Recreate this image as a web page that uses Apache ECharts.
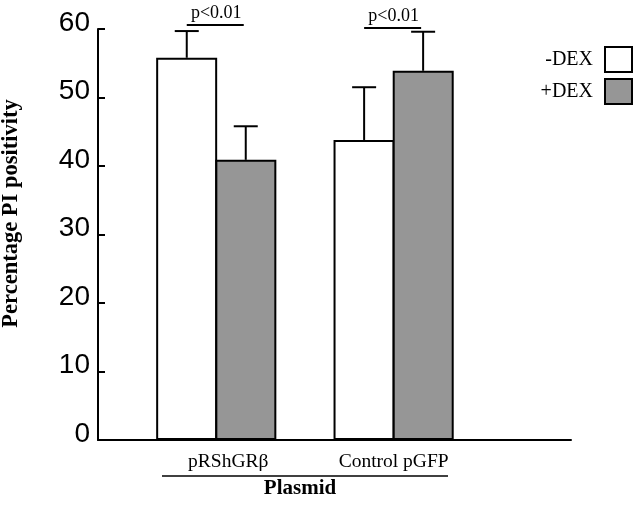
<!DOCTYPE html>
<html>
<head>
<meta charset="utf-8">
<script src="https://cdn.jsdelivr.net/npm/echarts@6/dist/echarts.min.js"></script>
<style>
html,body{margin:0;padding:0;background:#fff;}
#chart{width:640px;height:507px;}
</style>
</head>
<body>
<div id="chart"></div>
<script>
// ---- data ----
const categories = ['pRShGRβ', 'Control pGFP'];
const seriesNames = ['-DEX', '+DEX'];
const minusDex = [55.8, 43.8];
const plusDex = [40.9, 53.9];
const minusDexErr = [3.9, 7.7];
const plusDexErr = [4.9, 5.7];
const sigLabels = ['p<0.01', 'p<0.01'];
const sigLevels = [60.6, 60.15];
const yMin = 0, yMax = 60, yStep = 10;
const xTitle = 'Plasmid';
const yTitle = 'Percentage PI positivity';

// ---- layout helpers (category slots on the axis) ----
const slotCount = 8;
const groupSlots = [2, 5];
const axisSlots = Array.from({length: slotCount + 1}, (_, i) => {
  const g = groupSlots.indexOf(i);
  return g >= 0 ? categories[g] : '';
});
const toSlots = vals => axisSlots.map((_, i) => {
  const g = groupSlots.indexOf(i);
  return g >= 0 ? vals[g] : '-';
});
const BW = 59;
const serif = '"Liberation Serif", "Times New Roman", serif';
const sans = '"Liberation Sans", Arial, sans-serif';
const GRAY = '#969696';

const chart = echarts.init(document.getElementById('chart'), null, {renderer: 'canvas'});

function errRender(sign) {
  return function (params, api) {
    const slot = api.value(0);
    const base = api.coord([slot, api.value(1)]);
    const top = api.coord([slot, api.value(1) + api.value(2)]);
    const x = base[0] + sign * BW / 2;
    const cap = 12;
    const st = {stroke: '#000', lineWidth: 2};
    return {
      type: 'group',
      children: [
        {type: 'line', shape: {x1: x, y1: base[1], x2: x, y2: top[1]}, style: st},
        {type: 'line', shape: {x1: x - cap, y1: top[1], x2: x + cap, y2: top[1]}, style: st}
      ]
    };
  };
}

const option = {
  backgroundColor: '#fff',
  animation: false,
  grid: {left: 98, right: 69, top: 29, bottom: 67, containLabel: false, outerBoundsMode: 'none'},
  legend: {
    orient: 'vertical',
    right: 7,
    top: 46,
    padding: 0,
    align: 'right',
    itemWidth: 27,
    itemHeight: 25,
    itemGap: 5,
    icon: 'rect',
    data: seriesNames,
    textStyle: {fontFamily: serif, fontSize: 20, color: '#000', padding: [0, 7, 0, 0], lineHeight: 26}
  },
  xAxis: {
    type: 'category',
    data: axisSlots,
    boundaryGap: false,
    axisLine: {lineStyle: {color: '#000', width: 2}},
    axisTick: {show: false},
    splitLine: {show: false},
    axisLabel: {
      interval: 0,
      margin: 12,
      fontFamily: serif,
      fontSize: 19.5,
      color: '#000',
      formatter: (v) => v === categories[0] ? '{a|' + v + '}' : v,
      rich: {a: {fontFamily: serif, fontSize: 19.5, color: '#000', padding: [0, 0, 0, 24]}}
    }
  },
  yAxis: {
    type: 'value',
    min: yMin, max: yMax, interval: yStep,
    name: yTitle,
    nameLocation: 'middle',
    nameRotate: 90,
    nameGap: 75,
    nameTextStyle: {fontFamily: serif, fontWeight: 'bold', fontSize: 22.5, color: '#000', padding: [0, 0, 0, 42]},
    axisLine: {show: true, lineStyle: {color: '#000', width: 2}},
    axisTick: {show: true, inside: true, length: 7, lineStyle: {color: '#000', width: 2}},
    splitLine: {show: false},
    axisLabel: {fontFamily: sans, fontSize: 28, color: '#000', margin: 8, verticalAlign: 'bottom', lineHeight: 12}
  },
  series: [
    {
      name: seriesNames[0], type: 'bar', data: toSlots(minusDex), barWidth: 61, barGap: '-3%',
      itemStyle: {color: '#fff', borderColor: '#000', borderWidth: 2}
    },
    {
      name: seriesNames[1], type: 'bar', data: toSlots(plusDex), barWidth: 61, barGap: '-3%',
      itemStyle: {color: GRAY, borderColor: '#000', borderWidth: 2}
    },
    {
      type: 'custom', clip: false, z: 5,
      data: groupSlots.map((s, i) => [s, minusDex[i], minusDexErr[i]]),
      renderItem: errRender(-1)
    },
    {
      type: 'custom', clip: false, z: 5,
      data: groupSlots.map((s, i) => [s, plusDex[i], plusDexErr[i]]),
      renderItem: errRender(1)
    },
    {
      type: 'custom', clip: false, z: 6,
      data: groupSlots.map((s, i) => [s, sigLevels[i]]),
      renderItem: function (params, api) {
        const p = api.coord([api.value(0), api.value(1)]);
        return {
          type: 'group',
          children: [
            {type: 'line', shape: {x1: p[0] - BW / 2, y1: p[1], x2: p[0] + BW / 2 - 2, y2: p[1]},
             style: {stroke: '#000', lineWidth: 2}},
            {type: 'text', x: p[0], y: p[1] - 3,
             style: {text: sigLabels[params.dataIndex], fill: '#000', font: '18px ' + serif,
                     textAlign: 'center', textVerticalAlign: 'bottom'}}
          ]
        };
      }
    }
  ],
  graphic: [
    {type: 'line', shape: {x1: 162, y1: 476, x2: 448, y2: 476}, style: {stroke: '#000', lineWidth: 1.5}},
    {type: 'text', x: 300, y: 489,
     style: {text: xTitle, fill: '#000', font: 'bold 21px ' + serif, textAlign: 'center', textVerticalAlign: 'middle'}}
  ]
};
chart.setOption(option);
</script>
</body>
</html>
